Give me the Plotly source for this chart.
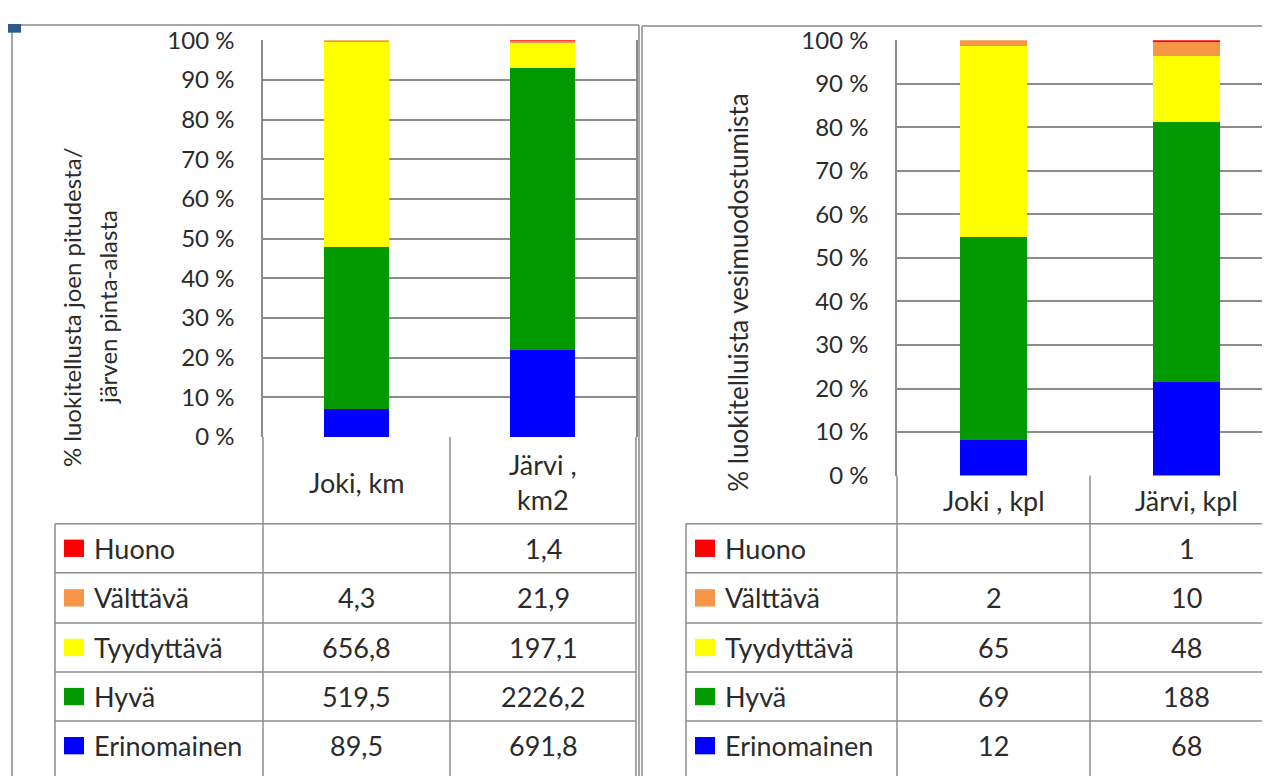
import plotly.graph_objects as go

W, H = 1270, 781
OFF = 8  # the page body adds an 8 px margin; compensate so the picture matches

# ---------------- data ----------------
classes = ["Huono", "Välttävä", "Tyydyttävä", "Hyvä", "Erinomainen"]
class_colors = ["#FF0000", "#F79646", "#FFFF00", "#009900", "#0000FF"]

left_categories = ["Joki, km", "Järvi ,<br>km2"]
left_joki = [None, 4.3, 656.8, 519.5, 89.5]
left_jarvi = [1.4, 21.9, 197.1, 2226.2, 691.8]

right_categories = ["Joki , kpl", "Järvi, kpl"]
right_joki = [None, 2, 65, 69, 12]
right_jarvi = [1, 10, 48, 188, 68]

y_ticks = [0, 10, 20, 30, 40, 50, 60, 70, 80, 90, 100]
y_ticktext = [f"{v} %" for v in y_ticks]

left_title_lines = ["% luokitellusta joen pitudesta/", "järven pinta-alasta"]
right_title = "% luokitelluista vesimuodostumista"

FONT = "Lato"
TXT = "#2b2b2b"
LINE = "#8c8c8c"


def px(x):
    return max(0.0, min(1.0, (x - OFF) / W))


def py(y):
    return max(0.0, min(1.0, 1 - (y - OFF) / H))


def fmt_left(v):
    return "" if v is None else f"{v:.1f}".replace(".", ",")


def fmt_right(v):
    return "" if v is None else f"{v:d}"


fig = go.Figure()

# stacked bars (bottom class first)
for i in reversed(range(len(classes))):
    fig.add_trace(go.Bar(
        x=left_categories, y=[left_joki[i], left_jarvi[i]],
        name=classes[i], marker=dict(color=class_colors[i], line=dict(width=0)),
        width=0.35, xaxis="x", yaxis="y", showlegend=False))
for i in reversed(range(len(classes))):
    fig.add_trace(go.Bar(
        x=right_categories, y=[right_joki[i], right_jarvi[i]],
        name=classes[i], marker=dict(color=class_colors[i], line=dict(width=0)),
        width=0.35, xaxis="x2", yaxis="y2", showlegend=False))

# geometry (pixels of the reference picture)
L_plot = (263, 636)
L_y0, L_y100 = 437, 25
R_left = 897
R_cat_w = 193
R_y0, R_y100 = 477, 25
R_right_px = W + OFF  # right end of the paper in picture pixels

axis_common = dict(range=[0, 100], tickvals=y_ticks, ticktext=y_ticktext,
                   showgrid=True, gridcolor=LINE, gridwidth=1.5,
                   zeroline=False, showline=True, linecolor=LINE, linewidth=1.5,
                   ticks="", ticklabelstandoff=22,
                   tickfont=dict(family=FONT, size=24, color=TXT))

fig.update_layout(
    width=W, height=H,
    margin=dict(l=0, r=0, t=0, b=0),
    paper_bgcolor="white", plot_bgcolor="white",
    barmode="stack", barnorm="percent",
    xaxis=dict(domain=[px(L_plot[0]), px(L_plot[1])], range=[-0.5, 1.5],
               showticklabels=False, showgrid=False, zeroline=False,
               showline=False, fixedrange=True),
    yaxis=dict(domain=[py(L_y0), py(L_y100)], mirror=True, **axis_common),
    xaxis2=dict(domain=[px(R_left), 1.0],
                range=[-0.5, -0.5 + (R_right_px - R_left) / R_cat_w],
                showticklabels=False, showgrid=False, zeroline=False,
                showline=False, fixedrange=True),
    yaxis2=dict(domain=[py(R_y0), py(R_y100)], anchor="x2", **axis_common),
)

shapes = []
annotations = []


def hline(x0, x1, y, color=LINE, w=1.5):
    shapes.append(dict(type="line", xref="paper", yref="paper",
                       x0=px(x0), x1=px(x1), y0=py(y), y1=py(y),
                       line=dict(color=color, width=w)))


def vline(x, y0, y1, color=LINE, w=1.5):
    shapes.append(dict(type="line", xref="paper", yref="paper",
                       x0=px(x), x1=px(x), y0=py(y0), y1=py(y1),
                       line=dict(color=color, width=w)))


def text(x, y, s, size=27, xanchor="center", angle=0):
    annotations.append(dict(xref="paper", yref="paper", x=px(x), y=py(y),
                            text=s, showarrow=False, xanchor=xanchor,
                            yanchor="middle", textangle=angle,
                            font=dict(family=FONT, size=size, color=TXT)))


BOTTOM = H + OFF
# outer chart borders
OUT = "#a6a6a6"
vline(12, 9, BOTTOM, OUT, 2)
hline(12, 639, 9, OUT, 2)
vline(639, 9, BOTTOM, OUT, 2)
vline(642, 10, BOTTOM, OUT, 2)
hline(642, BOTTOM + W, 10, OUT, 2)
shapes.append(dict(type="rect", xref="paper", yref="paper",
                   x0=px(8), x1=px(21), y0=py(8), y1=py(17),
                   fillcolor="#2E5A8C", line=dict(width=0)))

row_edges = [527, 578, 630, 681, 732, 783]
row_centers = [(row_edges[i] + row_edges[i + 1]) / 2 for i in range(5)]


def data_table(x_table_left, col_edges, y_header_top, header_y, cats, c1, c2,
               fmt):
    vline(col_edges[0], y_header_top, BOTTOM)
    vline(col_edges[1], y_header_top, BOTTOM)
    if col_edges[2] <= W:
        vline(col_edges[2], y_header_top, BOTTOM)
    vline(x_table_left, row_edges[0], BOTTOM)
    right_end = min(col_edges[2], W + OFF)
    for yy in row_edges[:-1]:
        hline(x_table_left, right_end, yy)
    for k, cat in enumerate(cats):
        cx = (col_edges[k] + col_edges[k + 1]) / 2
        text(cx, header_y, cat)
    for r, cls in enumerate(classes):
        cy = row_centers[r]
        shapes.append(dict(type="rect", xref="paper", yref="paper",
                           x0=px(x_table_left + 9), x1=px(x_table_left + 29),
                           y0=py(cy - 9), y1=py(cy + 9),
                           fillcolor=class_colors[r], line=dict(width=0)))
        text(x_table_left + 37, cy, cls, xanchor="left")
        text((col_edges[0] + col_edges[1]) / 2, cy, fmt(c1[r]))
        text((col_edges[1] + col_edges[2]) / 2, cy, fmt(c2[r]))


data_table(55, [263, 450, 636], L_y0, 484, left_categories, left_joki,
           left_jarvi, fmt_left)
data_table(686, [897, 1090, 1283], R_y0, 503, right_categories, right_joki,
           right_jarvi, fmt_right)

# axis titles
text(71, 302, left_title_lines[0], size=24, angle=-90)
text(107, 302, left_title_lines[1], size=24, angle=-90)
text(738, 287, right_title, size=26, angle=-90)

fig.update_layout(shapes=shapes, annotations=annotations)
fig.write_html("out.html")
